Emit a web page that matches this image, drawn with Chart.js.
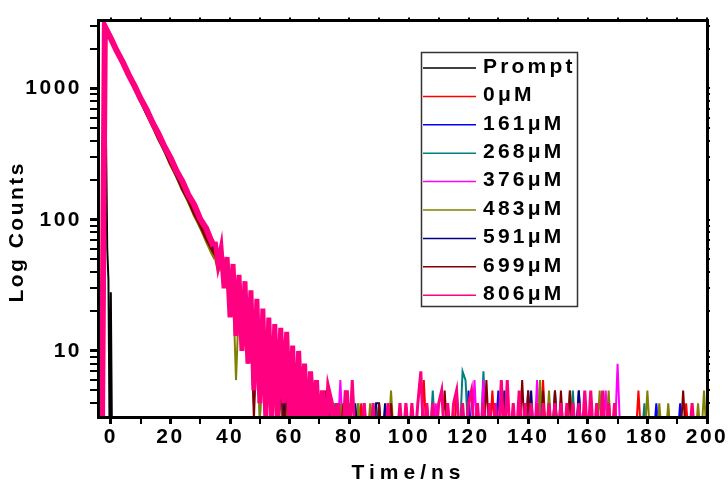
<!DOCTYPE html>
<html lang="en">
<head>
  <meta charset="UTF-8" />
  <title>Fluorescence decay</title>
  <script src="https://cdn.jsdelivr.net/npm/chart.js"></script>
  <style>
    html, body { margin: 0; padding: 0; background: #fff; }
    #wrap { width: 728px; height: 487px; }
  </style>
</head>
<body>
  <div id="wrap"><canvas id="decayChart" width="728" height="487"></canvas></div>

  <script>
    // ---- data (counts; 2 = below the visible floor) ----
    // channel grid in ns: coarse while the decay is smooth, 1 ns after that
    const timeNs = [-4, -3, -2, 0, 2, 4, 6, 8, 10, 12, 14, 16, 18, 20, 22, 24, 26, 28, 30, 32, 34];
    for (let t = 35; t <= 200; t++) timeNs.push(t);

    const promptTime   = [-4, -3, -2.4, -2, -1.6, -1.2, -0.8, -0.4, 0, 0.4, 1, 200];
    const promptCounts = [2, 2, 2, 2900, 400, 60, 35, 2, 28, 2, 2, 2];

    const counts0uM = [
      2, 2, 2940, 2380, 1960, 1560, 1290, 1025, 850, 672, 560, 442, 368, 290, 242, 190, 160, 125, 105, 82, 69,
      64, 52, 55, 42, 46, 31, 38, 25, 31, 19,
      27, 13, 22, 8, 18, 6, 15, 5, 13, 3,
      11, 4, 10, 2, 8, 3, 10, 2, 5, 3,
      7, 2, 5, 2, 4, 2, 3, 2, 4, 2,
      2, 3, 2, 2, 5, 2,
      2, 2, 2, 4, 2, 2, 2, 2, 2, 2,
      2, 2, 2, 2, 2, 2, 2, 2, 4, 2,
      2, 2, 2, 2, 6, 2, 2, 2, 2, 2,
      2, 2, 2, 2, 2, 5, 2, 2, 2, 2,
      2, 2, 2, 2, 2, 2, 2, 5, 2, 2,
      5, 2, 2, 2, 2, 2, 2, 2, 2, 2,
      2, 2, 2, 2, 6, 2, 2, 2, 2, 2,
      2, 2, 2, 2, 2, 2, 2, 2, 2, 2,
      2, 2, 2, 2, 2, 2, 2, 2, 2, 2,
      2, 2, 2, 2, 2, 2, 5, 2, 2, 2,
      2, 2, 2, 2, 2, 2, 2, 2, 2, 2,
      2, 2, 4, 2, 2, 2, 2, 2, 2, 2
    ];
    const counts161uM = [
      2, 2, 2955, 2400, 1925, 1585, 1265, 1040, 845, 676, 556, 445, 366, 292, 238, 195, 156, 126, 104, 83, 67,
      62, 50, 52, 40, 44, 32, 36, 24, 30, 18,
      26, 12, 20, 5, 17, 7, 14, 3, 12, 4,
      10, 2, 9, 4, 7, 2, 6, 3, 5, 2,
      6, 2, 4, 2, 5, 2, 3, 2, 2, 4,
      2, 2, 3, 2, 2, 4,
      2, 2, 2, 2, 2, 2, 2, 2, 2, 2,
      2, 2, 2, 2, 2, 2, 2, 2, 2, 2,
      2, 2, 2, 2, 2, 4, 2, 2, 2, 2,
      2, 2, 2, 2, 2, 2, 2, 2, 2, 5,
      2, 2, 2, 2, 2, 2, 2, 2, 2, 5,
      2, 2, 2, 2, 2, 2, 2, 2, 2, 5,
      2, 2, 2, 2, 2, 2, 2, 2, 2, 2,
      2, 2, 2, 2, 2, 2, 5, 2, 2, 2,
      2, 2, 2, 2, 2, 2, 2, 2, 2, 2,
      2, 2, 2, 2, 2, 2, 2, 2, 2, 2,
      2, 2, 4, 2, 2, 2, 2, 2, 2, 2,
      4, 2, 2, 2, 2, 2, 2, 2, 2, 2
    ];
    const counts268uM = [
      2, 2, 2945, 2385, 1915, 1555, 1245, 1010, 805, 655, 520, 425, 335, 274, 215, 177, 138, 114, 88, 73, 57,
      52, 44, 45, 36, 36, 28, 30, 20, 26, 12,
      19, 8, 16, 5, 13, 3, 10, 4, 8, 2,
      7, 3, 5, 2, 5, 2, 4, 2, 2, 4,
      2, 2, 3, 2, 4, 2, 2, 2, 3, 2,
      4, 2, 2, 2, 2, 4,
      2, 2, 4, 2, 2, 2, 2, 2, 4, 2,
      2, 2, 2, 2, 2, 2, 2, 2, 2, 2,
      2, 2, 2, 2, 2, 2, 2, 5, 2, 2,
      2, 2, 2, 2, 2, 2, 2, 7, 6, 2,
      2, 2, 2, 2, 7, 2, 2, 2, 2, 2,
      2, 2, 2, 2, 2, 2, 2, 2, 2, 2,
      2, 2, 2, 5, 2, 2, 2, 2, 2, 2,
      2, 2, 2, 2, 5, 2, 2, 2, 2, 2,
      2, 2, 2, 2, 2, 2, 2, 2, 2, 2,
      2, 2, 2, 2, 2, 2, 2, 2, 4, 2,
      2, 2, 2, 2, 2, 2, 2, 2, 2, 2,
      2, 2, 2, 2, 2, 2, 2, 2, 2, 2
    ];
    const counts376uM = [
      2, 2, 2952, 2395, 1935, 1565, 1262, 1020, 822, 664, 536, 432, 352, 284, 230, 186, 151, 122, 98, 80, 65,
      60, 48, 52, 38, 45, 30, 36, 22, 30, 16,
      25, 11, 21, 7, 17, 5, 14, 4, 12, 3,
      10, 3, 9, 2, 8, 4, 6, 2, 5, 2,
      6, 3, 4, 2, 5, 2, 2, 3, 2, 2,
      3, 2, 6, 2, 2, 3,
      2, 2, 2, 2, 2, 2, 2, 2, 2, 2,
      2, 2, 2, 2, 2, 2, 2, 2, 2, 2,
      2, 2, 2, 2, 2, 2, 2, 2, 4, 2,
      2, 2, 2, 2, 2, 2, 2, 2, 2, 2,
      2, 6, 2, 2, 6, 2, 2, 2, 2, 2,
      2, 2, 2, 2, 2, 2, 2, 2, 2, 2,
      2, 2, 6, 2, 2, 2, 2, 2, 2, 2,
      2, 2, 2, 2, 2, 2, 2, 2, 2, 2,
      2, 2, 2, 2, 2, 5, 2, 2, 2, 8,
      2, 2, 2, 2, 2, 2, 2, 2, 2, 2,
      2, 2, 2, 2, 2, 2, 2, 2, 2, 2,
      2, 2, 2, 2, 2, 2, 2, 2, 2, 2
    ];
    const counts483uM = [
      2, 2, 2935, 2365, 1918, 1538, 1242, 990, 806, 640, 520, 410, 336, 264, 215, 169, 138, 108, 88, 69, 55,
      50, 40, 44, 32, 36, 26, 30, 6, 24, 14,
      18, 10, 15, 6, 12, 3, 9, 3, 7, 2,
      6, 2, 5, 2, 4, 2, 2, 3, 2, 2,
      4, 2, 2, 2, 3, 2, 2, 2, 2, 2,
      2, 2, 4, 2, 2, 2,
      2, 2, 4, 2, 2, 2, 4, 2, 2, 2,
      2, 2, 2, 5, 2, 2, 2, 2, 2, 2,
      2, 2, 2, 2, 2, 2, 2, 2, 2, 2,
      2, 2, 2, 2, 2, 2, 2, 2, 2, 2,
      2, 2, 2, 2, 2, 2, 2, 2, 2, 2,
      2, 2, 2, 2, 2, 2, 2, 2, 2, 2,
      2, 2, 2, 6, 2, 2, 5, 2, 2, 2,
      2, 2, 2, 5, 2, 2, 2, 2, 2, 2,
      2, 2, 2, 5, 2, 2, 5, 2, 2, 2,
      2, 2, 2, 2, 2, 2, 2, 2, 2, 5,
      2, 2, 2, 4, 2, 2, 4, 2, 2, 2,
      2, 2, 2, 2, 2, 2, 4, 2, 5, 2
    ];
    const counts591uM = [
      2, 2, 2950, 2390, 1935, 1552, 1262, 1012, 822, 657, 537, 427, 350, 278, 228, 180, 148, 117, 96, 75, 62,
      56, 46, 48, 36, 40, 30, 32, 22, 27, 16,
      22, 10, 17, 4, 14, 5, 11, 2, 9, 4,
      8, 2, 6, 3, 7, 2, 5, 2, 4, 2,
      5, 2, 3, 2, 2, 4, 2, 2, 5, 2,
      2, 4, 2, 2, 3, 2,
      2, 4, 2, 2, 2, 2, 2, 2, 4, 4,
      2, 4, 2, 2, 2, 2, 2, 2, 2, 2,
      2, 2, 2, 2, 2, 2, 2, 2, 2, 2,
      2, 2, 4, 2, 2, 2, 2, 2, 2, 2,
      2, 2, 2, 2, 2, 2, 2, 2, 2, 2,
      2, 5, 2, 2, 2, 2, 2, 2, 2, 2,
      5, 2, 2, 2, 2, 2, 2, 2, 5, 2,
      2, 2, 2, 2, 2, 2, 5, 2, 2, 2,
      2, 2, 2, 2, 2, 2, 2, 2, 2, 2,
      2, 2, 2, 2, 2, 2, 2, 2, 2, 2,
      2, 2, 2, 2, 2, 2, 2, 2, 2, 2,
      2, 2, 2, 2, 2, 2, 2, 2, 2, 2
    ];
    const counts699uM = [
      2, 2, 2948, 2378, 1928, 1545, 1250, 1000, 810, 646, 526, 416, 340, 268, 219, 172, 141, 111, 91, 72, 59,
      54, 42, 46, 34, 38, 27, 30, 18, 25, 14,
      20, 9, 16, 3, 13, 6, 12, 2, 9, 3,
      7, 2, 8, 2, 5, 3, 6, 2, 4, 2,
      6, 2, 4, 2, 2, 3, 2, 5, 2, 2,
      3, 2, 2, 4, 2, 2,
      2, 2, 2, 2, 4, 2, 2, 2, 2, 4,
      2, 2, 2, 4, 2, 2, 2, 2, 2, 2,
      2, 2, 2, 2, 2, 2, 2, 2, 2, 2,
      2, 5, 2, 2, 2, 2, 2, 2, 2, 2,
      2, 2, 2, 2, 2, 6, 2, 2, 2, 2,
      2, 2, 2, 2, 2, 2, 2, 6, 2, 5,
      2, 2, 2, 2, 5, 2, 2, 2, 5, 2,
      5, 2, 2, 5, 2, 2, 2, 2, 2, 2,
      2, 2, 2, 2, 2, 2, 2, 2, 2, 2,
      2, 2, 2, 2, 2, 2, 2, 2, 2, 2,
      2, 2, 2, 2, 2, 2, 2, 2, 2, 2,
      2, 5, 2, 2, 2, 2, 2, 2, 2, 2
    ];
    const counts806uM = [
      2, 2, 2960, 2410, 1930, 1590, 1270, 1045, 835, 690, 548, 452, 360, 298, 236, 196, 155, 130, 101, 86, 66,
      68, 46, 60, 30, 52, 18, 46, 13, 38, 10,
      34, 8, 29, 5, 25, 4, 21, 3, 18, 3,
      16, 3, 15, 4, 14, 3, 11, 2, 10, 3,
      8, 2, 7, 3, 6, 2, 5, 2, 5, 4,
      2, 4, 2, 2, 5, 2,
      6, 2, 2, 2, 4, 2, 2, 4, 2, 2,
      2, 2, 4, 2, 2, 2, 4, 2, 4, 2,
      4, 2, 4, 7, 2, 4, 2, 4, 2, 4,
      5, 2, 4, 2, 4, 5, 2, 4, 2, 4,
      5, 2, 4, 2, 4, 2, 4, 2, 4, 2,
      6, 2, 6, 2, 4, 2, 5, 2, 4, 2,
      4, 2, 4, 2, 4, 2, 4, 2, 4, 2,
      4, 2, 4, 2, 4, 2, 4, 2, 5, 2,
      5, 2, 4, 2, 5, 2, 4, 2, 4, 2,
      2, 2, 2, 2, 2, 2, 2, 2, 2, 2,
      2, 2, 2, 2, 2, 2, 2, 2, 2, 2,
      2, 2, 2, 2, 4, 2, 2, 2, 2, 2
    ];

    const concLabels = ['0μM', '161μM', '268μM', '376μM', '483μM', '591μM', '699μM', '806μM'];
    const concCounts = [counts0uM, counts161uM, counts268uM, counts376uM, counts483uM, counts591uM, counts699uM, counts806uM];
    const concColors = ['#FF0000', '#0000FF', '#008080', '#FF00FF', '#808000', '#000080', '#800000', '#FF0080'];

    const xTickValues = [0, 10, 20, 30, 40, 50, 60, 70, 80, 90, 100, 110, 120, 130, 140, 150, 160, 170, 180, 190, 200];
    const yTickValues = [4, 5, 6, 7, 8, 9, 10, 20, 30, 40, 50, 60, 70, 80, 90, 100,
                         200, 300, 400, 500, 600, 700, 800, 900, 1000, 2000, 3000];
    const yLabelValues = [10, 100, 1000];

    // ---- chart ----
    const FONT = '"Liberation Sans", Arial, Helvetica, sans-serif';
    const axisFont = { family: FONT, size: 21, weight: 'bold' };
    const X_MIN = -4.3, X_MAX = 200, Y_MIN = 3.14, Y_MAX = 3290;

    // line width by region: smooth decay / noisy fall-off / background tail
    function widthFor(x, top) {
      if (x < 35) return top ? 6 : 3;
      if (x < 80) return top ? 5 : 2;
      return top ? 3 : 2;
    }

    const datasets = [{
      label: 'Prompt',
      data: promptTime.map((t, i) => ({ x: t, y: promptCounts[i] })),
      borderColor: '#000000',
      borderWidth: 2,
      order: concLabels.length
    }];
    concCounts.forEach((arr, i) => {
      if (arr.length !== timeNs.length) console.warn('length mismatch', concLabels[i], arr.length);
      const top = i === concCounts.length - 1;
      datasets.push({
        label: concLabels[i],
        data: timeNs.map((t, j) => ({ x: t, y: arr[j] })),
        borderColor: concColors[i],
        borderWidth: 2,
        segment: { borderWidth: c => widthFor(c.p0.parsed.x, top) },
        order: concLabels.length - 1 - i   // last one drawn on top
      });
    });

    // inset legend like the original, drawn from the datasets
    const insetLegend = {
      id: 'insetLegend',
      afterDraw(chart) {
        const ctx = chart.ctx;
        const bx = 421, by = 52, bw = 156, bh = 254, rowH = 28.4;
        ctx.save();
        ctx.letterSpacing = '3.2px';
        ctx.strokeStyle = '#333';
        ctx.lineWidth = 1.5;
        ctx.strokeRect(bx + 0.5, by + 0.5, bw, bh);
        ctx.font = 'bold 21px ' + FONT;
        ctx.textBaseline = 'middle';
        chart.data.datasets.forEach((ds, i) => {
          const ry = by + 16 + i * rowH;
          ctx.strokeStyle = ds.borderColor;
          ctx.lineWidth = 1.5;
          ctx.beginPath();
          ctx.moveTo(bx + 2, ry);
          ctx.lineTo(bx + 55, ry);
          ctx.stroke();
          ctx.fillStyle = '#000';
          ctx.fillText(ds.label, bx + 62, ry - 1);
        });
        ctx.restore();
      }
    };

    const spacedText = {
      id: 'spacedText',
      beforeDraw(chart) { chart.ctx.letterSpacing = '2.5px'; }
    };

    const setXTicks = ax => { ax.ticks = xTickValues.map(v => ({ value: v })); };
    const setYTicks = ax => { ax.ticks = yTickValues.map(v => ({ value: v })); };
    const axisBorder = { display: true, color: '#000', width: 3, z: 1 };

    const chart = new Chart(document.getElementById('decayChart'), {
      type: 'line',
      data: { datasets },
      options: {
        responsive: false,
        animation: false,
        events: [],
        layout: { padding: 0 },
        elements: { point: { radius: 0 }, line: { tension: 0, fill: false } },
        datasets: { line: { clip: 0 } },
        plugins: { legend: { display: false }, tooltip: { enabled: false } },
        scales: {
          x: {
            type: 'linear', position: 'bottom', min: X_MIN, max: X_MAX,
            afterBuildTicks: setXTicks,
            afterFit: ax => { ax.height = 70; },
            ticks: { autoSkip: false, maxRotation: 0, minRotation: 0, padding: 1, color: '#000', font: axisFont,
                     callback: v => (v % 20 === 0 ? String(v) : '') },
            grid: { drawOnChartArea: false, tickLength: 7, color: '#000',
                    lineWidth: c => (c.tick && c.tick.value % 20 === 0 ? 3 : 2) },
            border: axisBorder,
            title: { display: true, text: 'Time/ns', color: '#000', font: axisFont, padding: { top: 0, bottom: 1 } }
          },
          x2: {
            type: 'linear', position: 'top', min: X_MIN, max: X_MAX,
            afterBuildTicks: setXTicks,
            afterFit: ax => { ax.height = 15; },
            ticks: { display: false },
            grid: { drawOnChartArea: false, tickLength: 3, color: '#000', lineWidth: 2 },
            border: axisBorder
          },
          y: {
            type: 'logarithmic', position: 'left', min: Y_MIN, max: Y_MAX,
            afterBuildTicks: setYTicks,
            afterFit: ax => { ax.width = 98; },
            ticks: { autoSkip: false, padding: 8, color: '#000', font: axisFont,
                     callback: v => (yLabelValues.includes(v) ? String(v) : '') },
            grid: { drawOnChartArea: false, tickLength: 8, color: '#000',
                    lineWidth: c => (c.tick && yLabelValues.includes(c.tick.value) ? 3 : 2) },
            border: axisBorder,
            title: { display: true, text: 'Log Counts', color: '#000', font: axisFont, padding: { top: 5, bottom: 0 } }
          },
          y2: {
            type: 'logarithmic', position: 'right', min: Y_MIN, max: Y_MAX,
            afterBuildTicks: setYTicks,
            afterFit: ax => { ax.width = 21; },
            ticks: { display: false },
            grid: { drawOnChartArea: false, tickLength: 3, color: '#000', lineWidth: 2 },
            border: axisBorder
          }
        }
      },
      plugins: [spacedText, insetLegend]
    });

    // axis titles sit a little off-centre and wider-spaced in the original
    function adjustTitle(scale, spacing, dx, dy) {
      const baseDrawTitle = scale.drawTitle;
      scale.drawTitle = function () {
        const c = this.ctx;
        c.save();
        c.letterSpacing = spacing;
        c.translate(dx, dy);
        baseDrawTitle.call(this);
        c.restore();
      };
    }
    adjustTitle(chart.scales.x, '5px', 6, 0);
    adjustTitle(chart.scales.y, '2.5px', 0, 13);
    chart.draw();
  </script>
</body>
</html>
